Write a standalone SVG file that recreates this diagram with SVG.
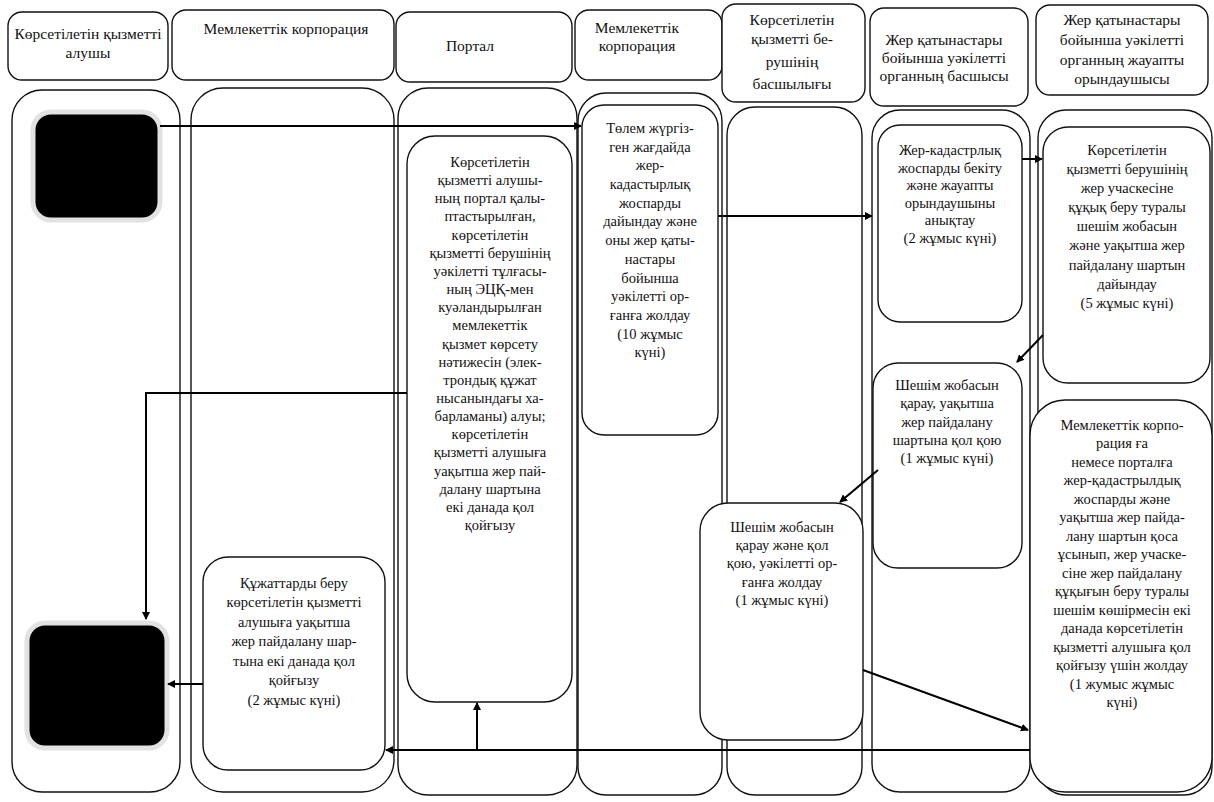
<svg xmlns="http://www.w3.org/2000/svg" width="1214" height="802" viewBox="0 0 1214 802">
<defs>
<marker id="ah" markerWidth="8" markerHeight="8" refX="7" refY="4" orient="auto" markerUnits="userSpaceOnUse">
<path d="M0,0 L8,4 L0,8 z" fill="#000"/>
</marker>
<style>
.box{fill:#fff;stroke:#111;stroke-width:1.4}
.lane{fill:#fff;stroke:#111;stroke-width:1.4}
.blk{fill:#000;stroke:#e2e2e2;stroke-width:5}
text{font-family:'Liberation Serif','DejaVu Serif',serif;font-size:14.5px;fill:#111;text-anchor:middle}
.hd text{font-size:15.5px}
.c{fill:none;stroke:#000;stroke-width:2}
</style>
</defs>
<rect width="1214" height="802" fill="#fff"/>

<g id="headers" class="hd" font-family="Liberation Serif, serif">
<g id="h1"><rect class="box" x="8" y="12" width="160" height="68" rx="14"/>
<text x="88" y="39">Көрсетілетін қызметті</text><text x="88" y="58">алушы</text></g>
<g id="h2"><rect class="box" x="172" y="10" width="222" height="70" rx="14"/>
<text x="286" y="34">Мемлекеттік корпорация</text></g>
<g id="h3"><rect class="box" x="396" y="12" width="176" height="70" rx="14"/>
<text x="470" y="51">Портал</text></g>
<g id="h4"><rect class="box" x="575" y="10" width="147" height="70" rx="14"/>
<text x="637" y="33">Мемлекеттік</text><text x="637" y="51">корпорация</text></g>
<g id="h5"><rect class="box" x="722" y="4" width="143" height="98" rx="14"/>
<text x="792" y="25">Көрсетілетін</text><text x="792" y="44">қызметті бе-</text><text x="792" y="67">рушінің</text><text x="792" y="89">басшылығы</text></g>
<g id="h6"><rect class="box" x="870" y="8" width="158" height="98" rx="14"/>
<text x="944" y="45">Жер қатынастары</text><text x="944" y="63">бойынша уәкілетті</text><text x="944" y="81">органның басшысы</text></g>
<g id="h7"><rect class="box" x="1036" y="5" width="172" height="90" rx="14"/>
<text x="1122" y="25">Жер қатынастары</text><text x="1122" y="45">бойынша уәкілетті</text><text x="1122" y="65">органның жауапты</text><text x="1122" y="84">орындаушысы</text></g>
</g>

<g id="lanes">
<rect id="lane1" class="lane" x="12" y="90" width="168" height="702" rx="30"/>
<rect id="lane2" class="lane" x="191" y="88" width="203" height="704" rx="32"/>
<rect id="lane3" class="lane" x="398" y="88" width="179" height="707" rx="30"/>
<rect id="lane4" class="lane" x="578" y="93" width="144" height="702" rx="28"/>
<rect id="lane5" class="lane" x="727" y="107" width="135" height="688" rx="28"/>
<rect id="lane6" class="lane" x="872" y="110" width="158" height="682" rx="28"/>
<rect id="lane7" class="lane" x="1038" y="110" width="174" height="685" rx="28"/>
</g>

<g id="start"><rect class="blk" x="33" y="112" width="127" height="108" rx="18"/></g>
<g id="end"><rect class="blk" x="27" y="623" width="140" height="125" rx="18"/></g>

<g id="portal" font-family="Liberation Serif, serif">
<rect class="box" x="407" y="136" width="165" height="566" rx="28"/>
<text x="490" y="167">Көрсетілетін</text>
<text x="490" y="185">қызметті алушы-</text>
<text x="490" y="203">ның портал қалы-</text>
<text x="490" y="221">птастырылған,</text>
<text x="490" y="240">көрсетілетін</text>
<text x="490" y="258">қызметті берушінің</text>
<text x="490" y="276">уәкілетті тұлғасы-</text>
<text x="490" y="294">ның ЭЦҚ-мен</text>
<text x="490" y="312">куәландырылған</text>
<text x="490" y="330">мемлекеттік</text>
<text x="490" y="349">қызмет көрсету</text>
<text x="490" y="367">нәтижесін (элек-</text>
<text x="490" y="385">трондық құжат</text>
<text x="490" y="403">нысанындағы ха-</text>
<text x="490" y="421">барламаны) алуы;</text>
<text x="490" y="439">көрсетілетін</text>
<text x="490" y="457">қызметті алушыға</text>
<text x="490" y="476">уақытша жер пай-</text>
<text x="490" y="494">далану шартына</text>
<text x="490" y="512">екі данада қол</text>
<text x="490" y="530">қойғызу</text>
</g>

<g id="corp" font-family="Liberation Serif, serif">
<rect class="box" x="582" y="105" width="136" height="330" rx="22"/>
<text x="650" y="133">Төлем жүргіз-</text>
<text x="650" y="152">ген жағдайда</text>
<text x="650" y="170">жер-</text>
<text x="650" y="189">кадастырлық</text>
<text x="650" y="208">жоспарды</text>
<text x="650" y="226">дайындау және</text>
<text x="650" y="245">оны жер қаты-</text>
<text x="650" y="264">настары</text>
<text x="650" y="283">бойынша</text>
<text x="650" y="301">уәкілетті ор-</text>
<text x="650" y="320">ғанға жолдау</text>
<text x="650" y="339">(10 жұмыс</text>
<text x="650" y="357">күні)</text>
</g>

<g id="head6a" font-family="Liberation Serif, serif">
<rect class="box" x="878" y="125" width="144" height="197" rx="22"/>
<text x="950" y="155">Жер-кадастрлық</text>
<text x="950" y="173">жоспарды бекіту</text>
<text x="950" y="190">және жауапты</text>
<text x="950" y="208">орындаушыны</text>
<text x="950" y="225">анықтау</text>
<text x="950" y="243">(2 жұмыс күні)</text>
</g>

<g id="exec7a" font-family="Liberation Serif, serif">
<rect class="box" x="1043" y="127" width="167" height="256" rx="25"/>
<text x="1127" y="155">Көрсетілетін</text>
<text x="1127" y="174">қызметті берушінің</text>
<text x="1127" y="193">жер учаскесіне</text>
<text x="1127" y="212">құқық беру туралы</text>
<text x="1127" y="231">шешім жобасын</text>
<text x="1127" y="250">және уақытша жер</text>
<text x="1127" y="270">пайдалану шартын</text>
<text x="1127" y="289">дайындау</text>
<text x="1127" y="308">(5 жұмыс күні)</text>
</g>

<g id="head6b" font-family="Liberation Serif, serif">
<rect class="box" x="873" y="363" width="149" height="205" rx="25"/>
<text x="947" y="390">Шешім жобасын</text>
<text x="947" y="408">қарау, уақытша</text>
<text x="947" y="427">жер пайдалану</text>
<text x="947" y="445">шартына қол қою</text>
<text x="947" y="463">(1 жұмыс күні)</text>
</g>

<g id="exec7b" font-family="Liberation Serif, serif">
<rect class="box" x="1030" y="400" width="182" height="392" rx="35"/>
<text x="1122" y="430">Мемлекеттік корпо-</text>
<text x="1122" y="448">рация ға</text>
<text x="1122" y="467">немесе порталға</text>
<text x="1122" y="485">жер-қадастрылдық</text>
<text x="1122" y="504">жоспарды және</text>
<text x="1122" y="522">уақытша жер пайда-</text>
<text x="1122" y="541">лану шартын қоса</text>
<text x="1122" y="559">ұсынып, жер учаске-</text>
<text x="1122" y="578">сіне жер пайдалану</text>
<text x="1122" y="596">құқығын беру туралы</text>
<text x="1122" y="615">шешім көшірмесін екі</text>
<text x="1122" y="633">данада көрсетілетін</text>
<text x="1122" y="652">қызметті алушыға қол</text>
<text x="1122" y="670">қойғызу үшін жолдау</text>
<text x="1122" y="689">(1 жумыс жұмыс</text>
<text x="1122" y="707">күні)</text>
</g>

<g id="provider5a" font-family="Liberation Serif, serif">
<rect class="box" x="700" y="503" width="163" height="237" rx="28"/>
<text x="782" y="532">Шешім жобасын</text>
<text x="782" y="550">қарау және  қол</text>
<text x="782" y="568">қою, уәкілетті ор-</text>
<text x="782" y="587">ғанға жолдау</text>
<text x="782" y="605">(1 жұмыс күні)</text>
</g>

<g id="docs" font-family="Liberation Serif, serif">
<rect class="box" x="203" y="557" width="182" height="213" rx="25"/>
<text x="294" y="588">Құжаттарды беру</text>
<text x="294" y="607">көрсетілетін қызметті</text>
<text x="294" y="627">алушыға уақытша</text>
<text x="294" y="646">жер пайдалану шар-</text>
<text x="294" y="666">тына екі данада қол</text>
<text x="294" y="685">қойғызу</text>
<text x="294" y="705">(2 жұмыс күні)</text>
</g>

<g id="connectors">
<path class="c" d="M160,126 L581,126" marker-end="url(#ah)"/>
<path class="c" d="M407,393 L146,393 L146,619" marker-end="url(#ah)"/>
<path class="c" d="M718,216 L872,216" marker-end="url(#ah)"/>
<path class="c" d="M1022,159 L1042,159" marker-end="url(#ah)"/>
<path class="c" d="M1043,335 L1017,362" marker-end="url(#ah)"/>
<path class="c" d="M878,470 L840,502" marker-end="url(#ah)"/>
<path class="c" d="M863,670 L1028,730" marker-end="url(#ah)"/>
<path class="c" d="M1030,750 L386,750" marker-end="url(#ah)"/>
<path class="c" d="M477,750 L477,703" marker-end="url(#ah)"/>
<path class="c" d="M203,684 L168,684" marker-end="url(#ah)"/>
</g>
</svg>
